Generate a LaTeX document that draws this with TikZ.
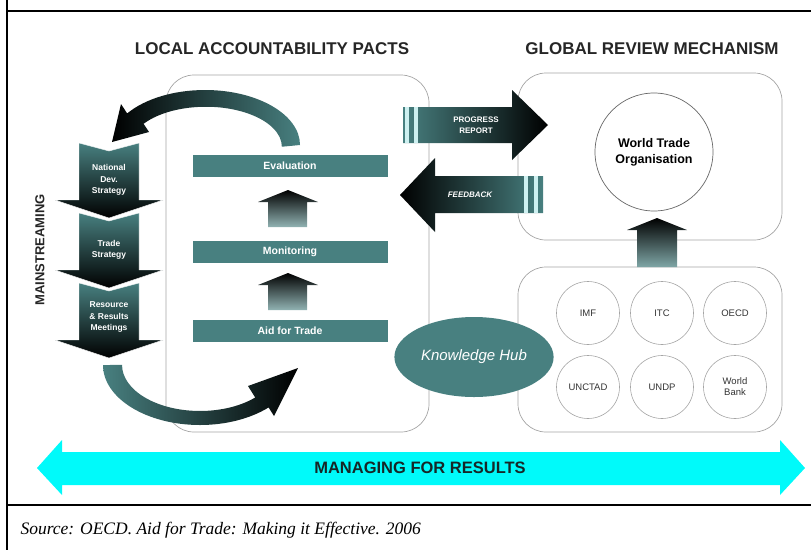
\documentclass[tikz,border=0pt]{standalone}
\usepackage{fontspec}
\setmainfont{Liberation Serif}
\setsansfont{Liberation Sans}
\usetikzlibrary{shapes.geometric}
\definecolor{hubteal}{RGB}{72,128,128}
\definecolor{stripe}{RGB}{205,240,240}
\definecolor{resultcyan}{RGB}{0,250,250}
\definecolor{boxgray}{RGB}{165,165,165}
\tikzset{
  pactbox/.style={draw=boxgray, line width=0.7pt, rounded corners=28pt},
  stagebar/.style={fill=hubteal, minimum width=195pt, minimum height=22pt, inner sep=0pt,
    text=white, font=\sffamily\bfseries\fontsize{10.5}{12}\selectfont},
  agency/.style={circle, draw=boxgray, line width=0.6pt, minimum size=63pt, inner sep=0pt,
    align=center, text=black!80, font=\sffamily\fontsize{9.5}{11}\selectfont},
  heading/.style={text=black!85, font=\sffamily\bfseries\fontsize{17}{19}\selectfont},
  steplabel/.style={text=white, align=center, font=\sffamily\bfseries\fontsize{8.5}{11.5}\selectfont},
  arrowlabel/.style={text=white, align=center, font=\sffamily\bfseries\fontsize{8}{11}\selectfont},
}
\begin{document}
\begin{tikzpicture}[x=1pt,y=-1pt]
    \useasboundingbox (0,0) rectangle (811,550);
    \draw[line width=1.2pt](7,0)--(7,550);
    \draw[line width=1.2pt](7,11)--(811,11);
    \draw[line width=1.2pt](7,505)--(811,505);
    \node[heading] (local) at (272,49) {LOCAL ACCOUNTABILITY PACTS};
    \node[heading] (global) at (652,49) {GLOBAL REVIEW MECHANISM};
    \draw[pactbox](166,75) rectangle(429,432);
    \draw[pactbox](518,73) rectangle(782,240);
    \draw[pactbox](518,267) rectangle(782,432);
    \node[circle, draw=black!60, line width=0.7pt, minimum size=118pt, align=center,
        font=\sffamily\bfseries\fontsize{12.5}{16}\selectfont] (wto) at (654,152) {World Trade\\Organisation};
    \shade[top color=black, bottom color=hubteal!70](627,230)--(657,218)--(687,230)--(677,230)--(677,267)--(637,267)--(637,230)--cycle;
    \foreach \x/\y/\n/\t in {588/313/imf/IMF, 662/313/itc/ITC, 735/313/oecd/OECD,
        588/387/unctad/UNCTAD, 662/387/undp/UNDP, 735/387/wb/{World\\Bank}}{
        \node[agency] (\n) at (\x,\y) {\t};
    }
    \node[ellipse, fill=hubteal, minimum width=145pt, minimum height=80pt, text=white,
        font=\sffamily\itshape\fontsize{15}{17}\selectfont] (hub) at (474,357) {Knowledge Hub};
    \node[stagebar] (evaluation) at (290,166) {Evaluation};
    \node[stagebar] (monitoring) at (290,252) {Monitoring};
    \node[stagebar] (aid) at (290,331) {Aid for Trade};
    \foreach \t in {190,273}{
        \shade[top color=black, bottom color=hubteal!60](258,\t+12)--(288,\t)--(318,\t+12)--(307,\t+12)--(307,\t+37)--(268,\t+37)--(268,\t+12)--cycle;
    }
    \foreach \t in {143,213,283}{
        \shade[top color=hubteal, bottom color=black, draw=white](79,\t)--(109,\t+8)--(139,\t)--(139,\t+57)--(163,\t+57)--(109,\t+75)--(55,\t+57)--(79,\t+57)--cycle;
    }
    \node[steplabel] (national) at (109,180) {National\\Dev.\\Strategy};
    \node[steplabel] (trade) at (109,250) {Trade\\Strategy};
    \node[steplabel] (meetings) at (109,317) {Resource\\\& Results\\Meetings};
    \node[rotate=90, text=black!85, font=\sffamily\bfseries\fontsize{13}{15}\selectfont] (mainstream) at (40,250) {MAINSTREAMING};
    \shade[left color=black, right color=hubteal](300,145) arc[start angle=0, end angle=-145, x radius=95, y radius=55]
        --(121,104)--(112,142)--(149,132)--(143.6,123.8) arc[start angle=-145, end angle=0, x radius=76, y radius=40]--cycle;
    \shade[left color=hubteal, right color=black](103,365) arc[start angle=180, end angle=45, x radius=97, y radius=60]
        --(274,416)--(298,368)--(248,386)--(255.2,397.5) arc[start angle=45, end angle=180, x radius=78, y radius=46]--cycle;
    \shade[left color=hubteal, right color=black](403,107)--(512,107)--(512,90)--(548,125)--(512,160)--(512,143)--(403,143)--cycle;
    \foreach \s in {405,414}{
        \fill[stripe](\s,107) rectangle(\s+4,143);
    }
    \node[arrowlabel] (progress) at (476,125) {PROGRESS\\REPORT};
    \shade[left color=black, right color=hubteal](400,195)--(435,158)--(435,176)--(543,176)--(543,213)--(435,213)--(435,232)--cycle;
    \foreach \s in {524,534}{
        \fill[stripe](\s,176) rectangle(\s+4,213);
    }
    \node[arrowlabel, font=\sffamily\bfseries\itshape\fontsize{8}{11}\selectfont] (feedback) at (470,195) {FEEDBACK};
    \fill[resultcyan](37,468)--(62,440)--(62,452)--(780,452)--(780,440)--(805,468)--(780,495)--(780,485)--(62,485)--(62,495)--cycle;
    \node[text=black!70!hubteal, font=\sffamily\bfseries\fontsize{16.5}{18}\selectfont] (results) at (420,468) {MANAGING FOR RESULTS};
    \node[anchor=west, font=\itshape\fontsize{17.5}{20}\selectfont] (source) at (17,530) {Source: OECD. Aid for Trade: Making it Effective. 2006};
\end{tikzpicture}
\end{document}
